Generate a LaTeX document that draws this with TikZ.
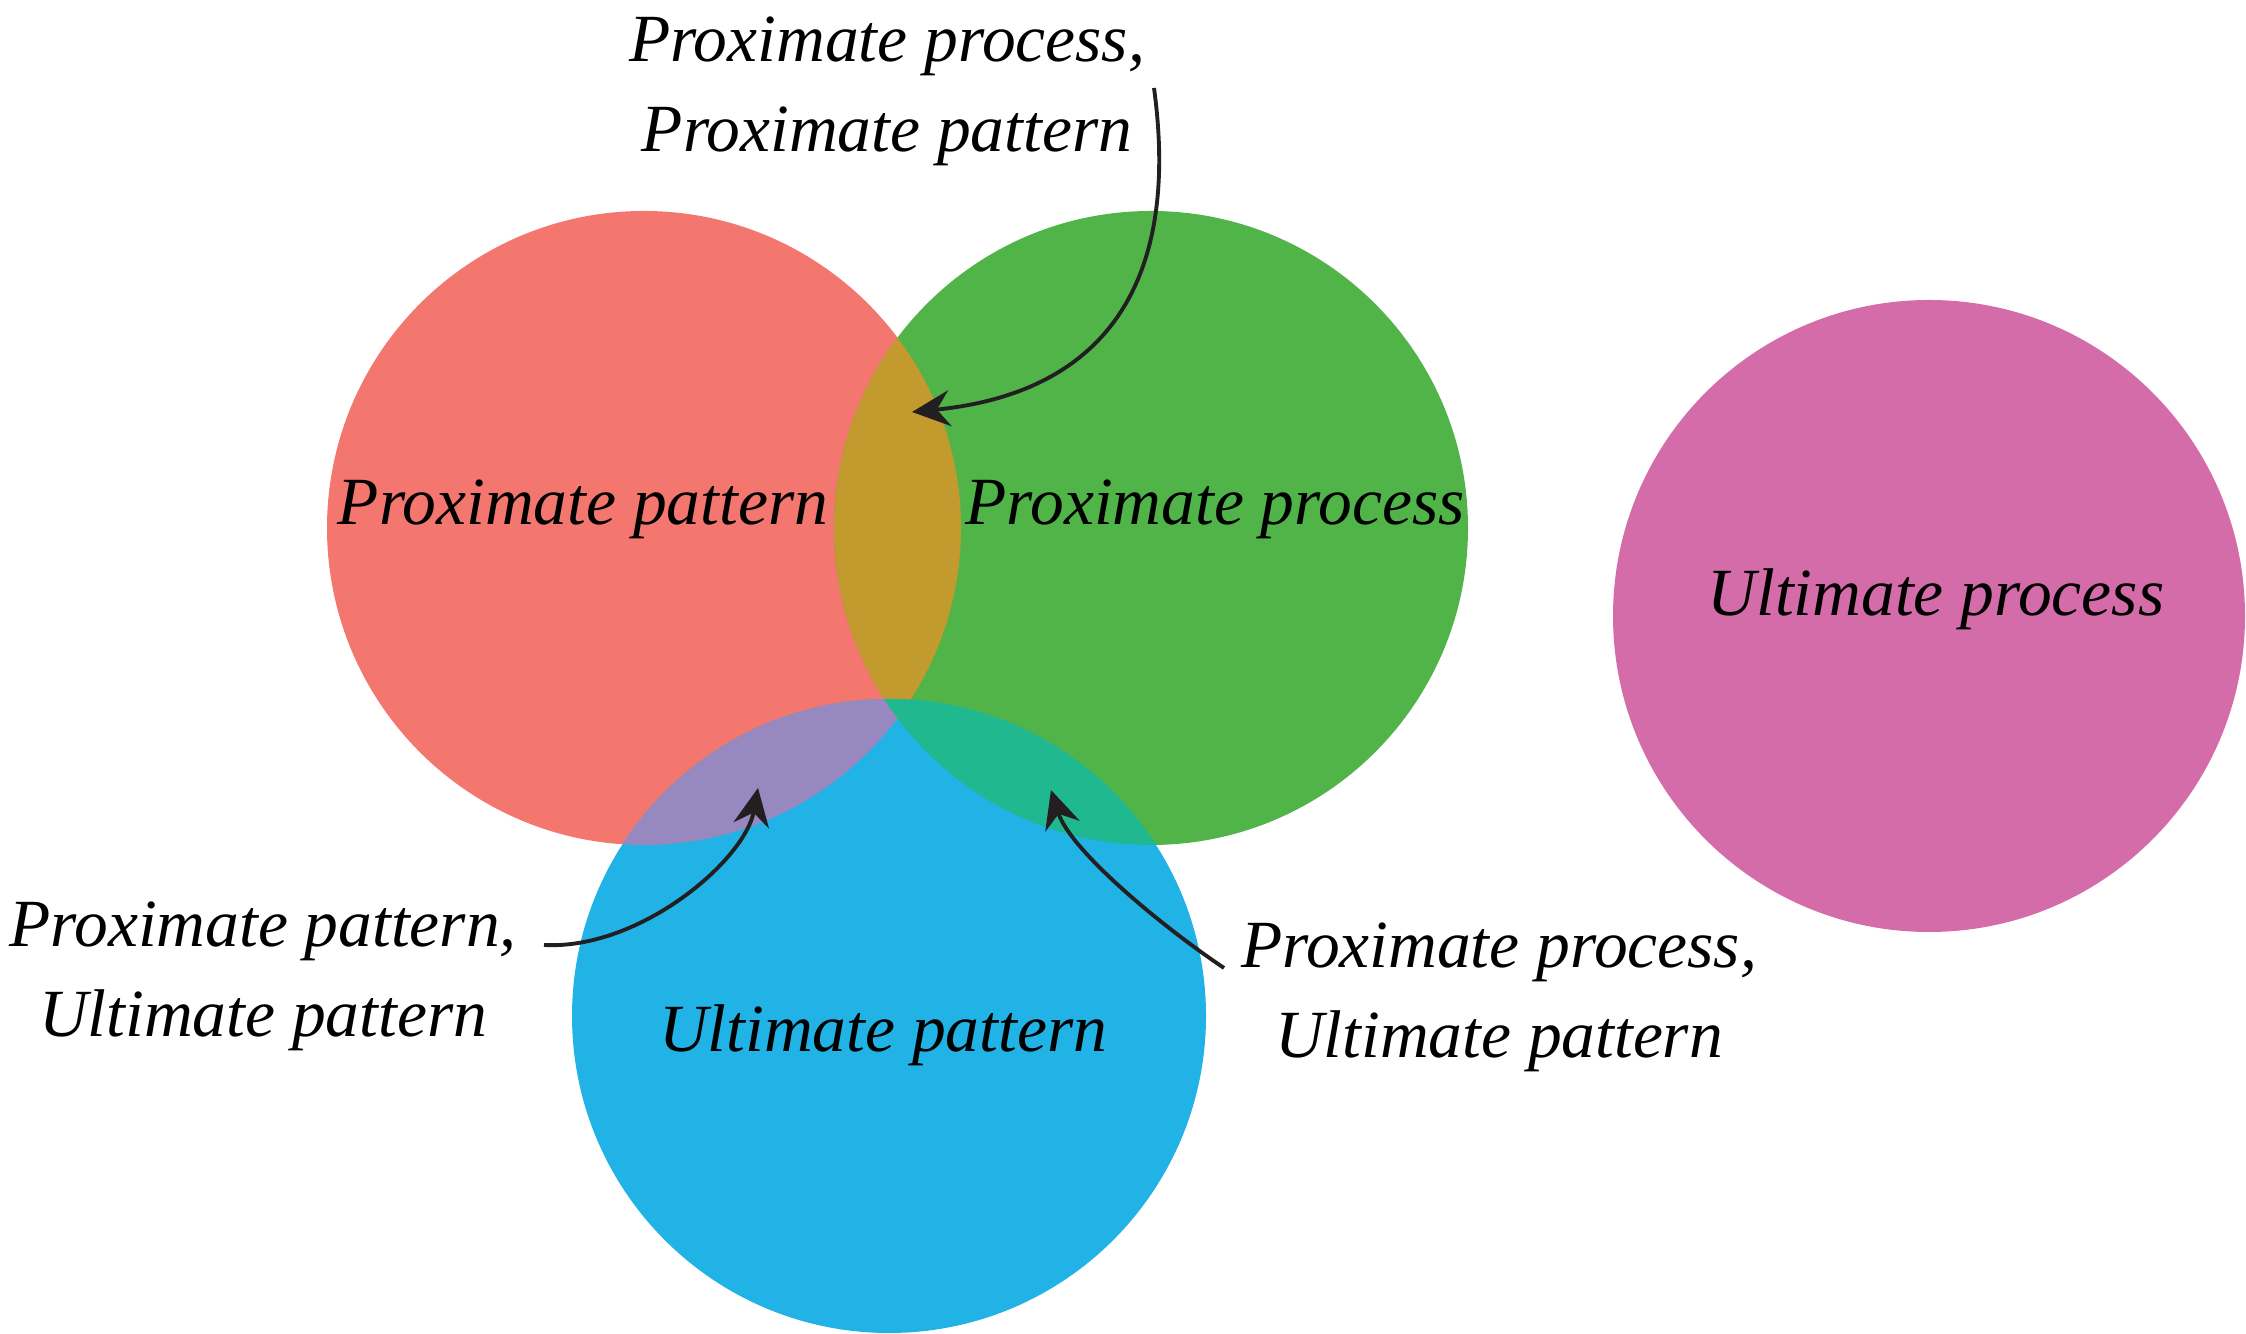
\documentclass[tikz,border=0pt]{standalone}
\usepackage{fontspec}
\setmainfont{Liberation Serif}
\usepackage{tikz}
\usetikzlibrary{arrows.meta}

\definecolor{patred}{HTML}{F3766F}
\definecolor{procgreen}{HTML}{50B448}
\definecolor{ultblue}{HTML}{21B2E6}
\definecolor{ultpink}{HTML}{D56CAA}
\definecolor{redgreen}{HTML}{C39A2E}
\definecolor{redblue}{HTML}{9789C0}
\definecolor{greenblue}{HTML}{20B88F}
\definecolor{inkblack}{HTML}{231F20}

\begin{document}
\begin{tikzpicture}[
    txt/.style={font=\fontsize{19.2}{25.6}\selectfont\itshape, inner sep=0pt, text=black},
    arr/.style={draw=inkblack, line width=1.1pt, -{Stealth[length=3.8mm, width=3.6mm, inset=1.3mm]}}]
    \useasboundingbox (0,0) rectangle (22.46,13.34);
    % circle centres
    \coordinate (cR) at (6.44,8.06);
    \coordinate (cG) at (11.51,8.06);
    \coordinate (cB) at (8.89,3.18);
    \coordinate (cP) at (19.29,7.18);
    \fill[patred] (cR) circle (3.17);
    \fill[procgreen] (cG) circle (3.17);
    \fill[ultblue] (cB) circle (3.17);
    \fill[ultpink] (cP) circle (3.16);
    % overlaps
    \begin{scope}
        \clip (cR) circle (3.17);
        \fill[redgreen] (cG) circle (3.17);
    \end{scope}
    \begin{scope}
        \clip (cR) circle (3.17);
        \fill[redblue] (cB) circle (3.17);
    \end{scope}
    \begin{scope}
        \clip (cG) circle (3.17);
        \fill[greenblue] (cB) circle (3.17);
    \end{scope}
    % labels inside
    \node[txt, anchor=base] (ppat) at (5.83,8.09) {Proximate pattern};
    \node[txt, anchor=base] (pproc) at (12.15,8.09) {Proximate process};
    \node[txt, anchor=base] (uproc) at (19.36,7.18) {Ultimate process};
    \node[txt, anchor=base] (upat) at (8.83,2.82) {Ultimate pattern};
    % labels outside
    \node[txt, align=center] (procpat) at (8.87,12.43) {Proximate process,\\Proximate pattern};
    \node[txt, align=center] (patult) at (2.63,3.58) {Proximate pattern,\\Ultimate pattern};
    \node[txt, align=center] (procult) at (14.99,3.37) {Proximate process,\\Ultimate pattern};
    % arrows
    \coordinate (procpatend) at (11.54,12.46);
    \coordinate (procpattip) at (9.12,9.22);
    \coordinate (patultend) at (5.44,3.89);
    \coordinate (patulttip) at (7.58,5.46);
    \coordinate (procultend) at (12.24,3.66);
    \coordinate (proculttip) at (10.51,5.44);
    \draw[arr] (procpatend) .. controls (11.82,10.40) and (10.95,9.40) .. (procpattip);
    \draw[arr] (patultend) .. controls (6.40,3.84) and (7.45,4.74) .. (patulttip);
    \draw[arr] (procultend) .. controls (11.60,4.09) and (10.70,4.84) .. (proculttip);
\end{tikzpicture}
\end{document}
